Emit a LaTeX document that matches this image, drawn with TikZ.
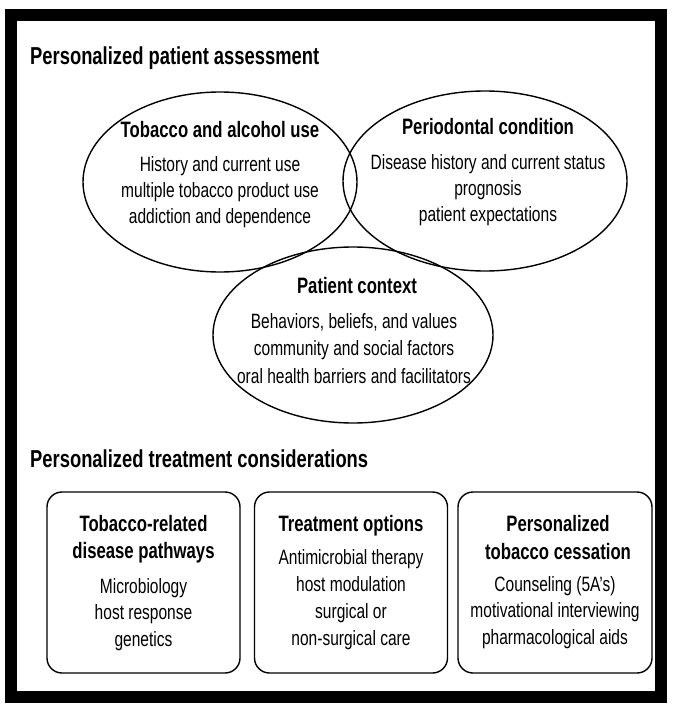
\documentclass[tikz,border=0pt]{standalone}
\usepackage{fontspec}
\setmainfont{Liberation Sans}[FakeStretch=0.75]
\usetikzlibrary{shapes.geometric}
\begin{document}
\begin{tikzpicture}[x=1pt,y=-1pt,
  ell/.style={draw,line width=1.4pt,ellipse,inner sep=0pt},
  rbox/.style={draw,line width=1.4pt,rounded corners=15pt,inner sep=0pt},
  ttl/.style={font=\bfseries\fontsize{24.5}{26}\selectfont,anchor=base west,inner sep=0pt},
  hd/.style={font=\bfseries\fontsize{22.3}{24}\selectfont,anchor=base,inner sep=0pt},
  bd/.style={font=\fontsize{20.7}{22}\selectfont,anchor=base,inner sep=0pt}]
\useasboundingbox (0,0) rectangle (672,711);
\fill[white] (0,0) rectangle (672,711);
\draw[line width=12pt] (11,15) rectangle (661,697);
\node[ttl] (t1) at (30,65) {Personalized patient assessment};
\node[ell,minimum width=274pt,minimum height=180pt] (e1) at (220,182) {};
\node[ell,minimum width=284pt,minimum height=180pt] (e2) at (485,181) {};
\node[ell,minimum width=280pt,minimum height=176pt] (e3) at (353,335) {};
\node[hd] (h1) at (220,138) {Tobacco and alcohol use};
\node[bd] (b1a) at (220,172) {History and current use};
\node[bd] (b1b) at (220,197) {multiple tobacco product use};
\node[bd] (b1c) at (220,223) {addiction and dependence};
\node[hd] (h2) at (488,135) {Periodontal condition};
\node[bd] (b2a) at (488,170) {Disease history and current status};
\node[bd] (b2b) at (488,196) {prognosis};
\node[bd] (b2c) at (488,222) {patient expectations};
\node[hd] (h3) at (357,293) {Patient context};
\node[bd] (b3a) at (354,328) {Behaviors, beliefs, and values};
\node[bd] (b3b) at (354,355) {community and social factors};
\node[bd] (b3c) at (354,383) {oral health barriers and facilitators};
\node[ttl] (t2) at (30,467) {Personalized treatment considerations};
\node[rbox,minimum width=193pt,minimum height=181pt] (r1) at (143.5,582.5) {};
\node[rbox,minimum width=193pt,minimum height=181pt] (r2) at (351,582.5) {};
\node[rbox,minimum width=194pt,minimum height=181pt] (r3) at (555,582.5) {};
\node[hd] (r1h1) at (143.5,531) {Tobacco-related};
\node[hd] (r1h2) at (143.5,558) {disease pathways};
\node[bd] (r1a) at (143.5,593) {Microbiology};
\node[bd] (r1b) at (143.5,619) {host response};
\node[bd] (r1c) at (143.5,646) {genetics};
\node[hd] (r2h1) at (351,531) {Treatment options};
\node[bd] (r2a) at (351,564) {Antimicrobial therapy};
\node[bd] (r2b) at (351,591) {host modulation};
\node[bd] (r2c) at (351,618) {surgical or};
\node[bd] (r2d) at (351,645) {non-surgical care};
\node[hd] (r3h1) at (558,531) {Personalized};
\node[hd] (r3h2) at (558,559) {tobacco cessation};
\node[bd] (r3a) at (555,591) {Counseling (5A's)};
\node[bd] (r3b) at (555,617) {motivational interviewing};
\node[bd] (r3c) at (555,644) {pharmacological aids};
\end{tikzpicture}
\end{document}
